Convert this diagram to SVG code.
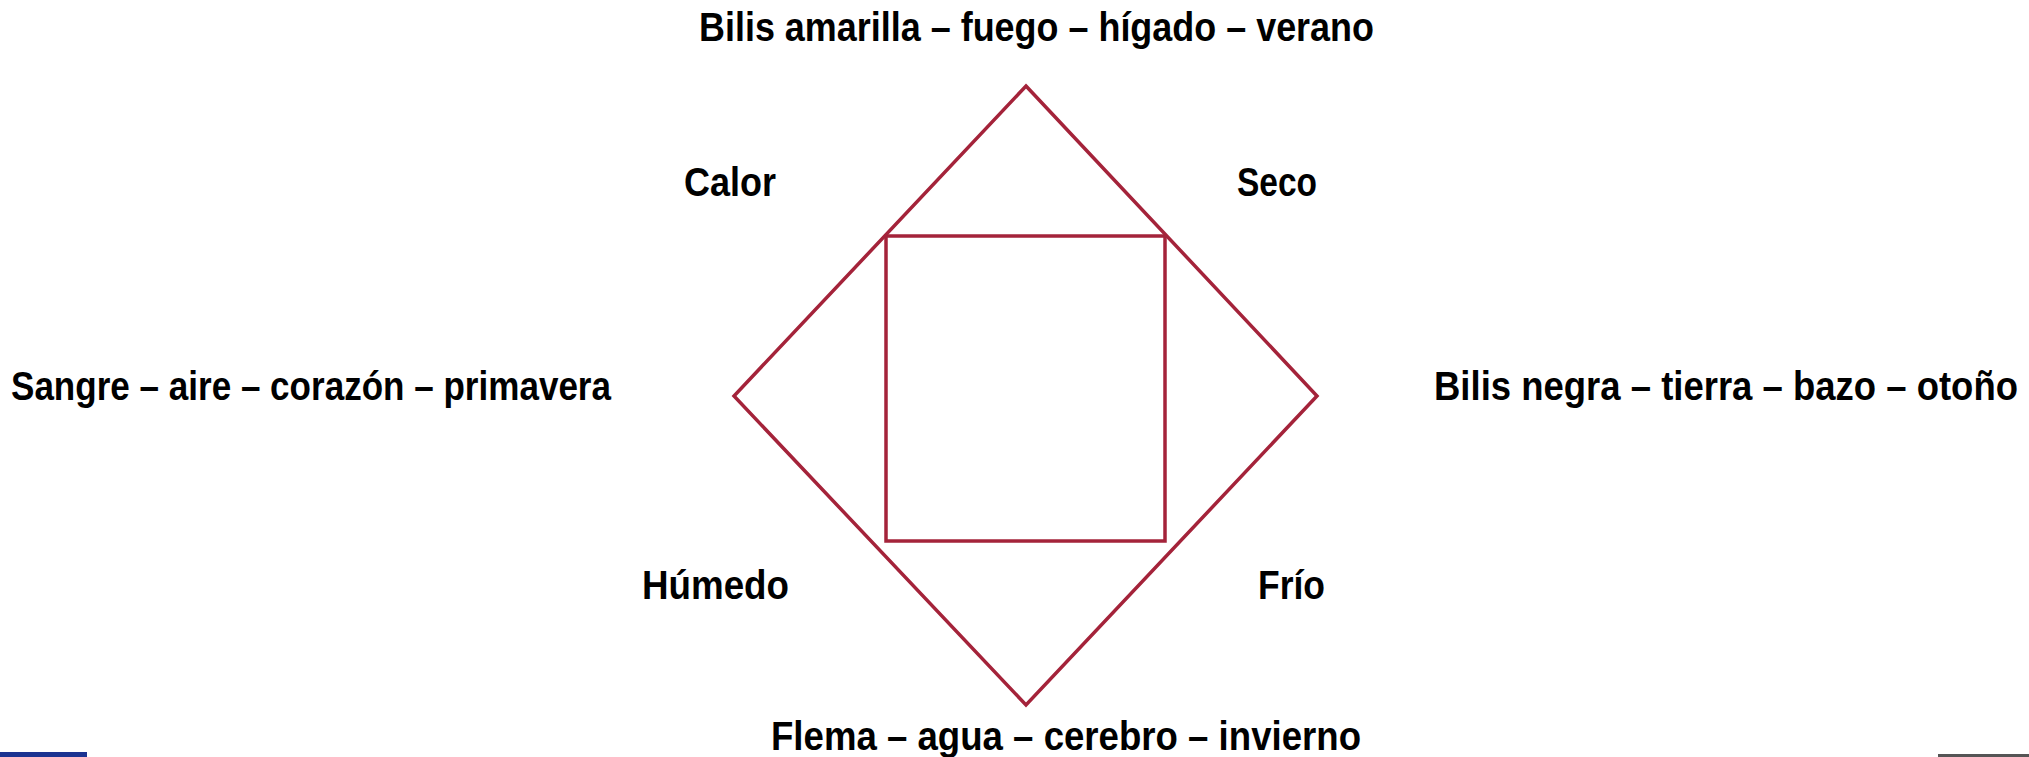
<svg xmlns="http://www.w3.org/2000/svg" width="2029" height="757" viewBox="0 0 2029 757">
<style>
.lbl{font-family:"Liberation Sans",Arial,sans-serif;font-weight:bold;font-size:41px;fill:#000}
.shape{fill:none;stroke:#A4233A;stroke-width:3.5}
</style>
<rect width="2029" height="757" fill="#fff"/>
<g id="connectors">
<polygon id="diamond" class="shape" points="1026,86 1317,396 1026,705 734,396"/>
<rect id="square" class="shape" x="886" y="236" width="279" height="305"/>
</g>
<g id="n-top"><text class="lbl" x="699" y="41" textLength="675" lengthAdjust="spacingAndGlyphs">Bilis amarilla – fuego – hígado – verano</text></g>
<g id="n-calor"><text class="lbl" x="684" y="196" textLength="92" lengthAdjust="spacingAndGlyphs">Calor</text></g>
<g id="n-seco"><text class="lbl" x="1237" y="196" textLength="80" lengthAdjust="spacingAndGlyphs">Seco</text></g>
<g id="n-left"><text class="lbl" x="11" y="400" textLength="600" lengthAdjust="spacingAndGlyphs">Sangre – aire – corazón – primavera</text></g>
<g id="n-right"><text class="lbl" x="2018" y="400" text-anchor="end" textLength="584" lengthAdjust="spacingAndGlyphs">Bilis negra – tierra – bazo – otoño</text></g>
<g id="n-humedo"><text class="lbl" x="642" y="599" textLength="147" lengthAdjust="spacingAndGlyphs">Húmedo</text></g>
<g id="n-frio"><text class="lbl" x="1258" y="599" textLength="67" lengthAdjust="spacingAndGlyphs">Frío</text></g>
<g id="n-bottom"><text class="lbl" x="771" y="750" textLength="590" lengthAdjust="spacingAndGlyphs">Flema – agua – cerebro – invierno</text></g>
<rect x="0" y="752" width="87" height="5" fill="#1B3391"/>
<rect x="1938" y="754" width="91" height="3" fill="#555"/>
</svg>
